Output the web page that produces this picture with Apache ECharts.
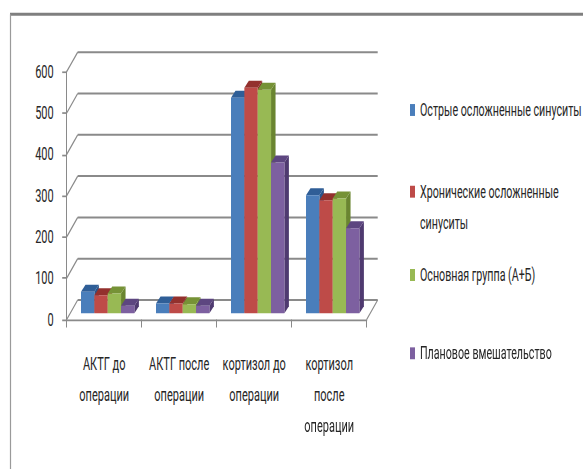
<!DOCTYPE html>
<html>
<head>
<meta charset="utf-8">
<script src="https://cdn.jsdelivr.net/npm/echarts@6/dist/echarts.min.js"></script>
<style>
  html, body { margin: 0; padding: 0; background: #ffffff; width: 583px; height: 469px; }
  #frame { position: relative; width: 583px; height: 469px; }
  /* The chart is laid out in a short box and stretched vertically,
     which gives the tall, narrow lettering and thick horizontal rules. */
  #chart { position: absolute; left: 0; top: 0; width: 583px; height: 275.88px; transform: scaleY(1.7); transform-origin: 0 0; }
</style>
</head>
<body>
<div id="frame"><div id="chart"></div></div>
<script>
// ---- data ----
const categories = ['АКТГ до\nоперации', 'АКТГ после\nоперации', 'кортизол до\nоперации', 'кортизол\nпосле\nоперации'];
const seriesNames = ['Острые осложненные синуситы', 'Хронические осложненные\nсинуситы', 'Основная группа (А+Б)', 'Плановое вмешательство'];
const acuteValues = [52, 24, 522, 286];
const chronicValues = [44, 24, 546, 274];
const mainGroupValues = [48, 22, 541, 278];
const plannedValues = [18, 18, 365, 206];
const yTicks = [0, 100, 200, 300, 400, 500, 600];

// ---- styling ----
const SY = 1.7;                       // vertical stretch of the container
const FONT = 'Roboto';
const TEXT = '#262626';
const LINE = '#8a8a8a';
const faceColors = ['#4a7ebb', '#be4b48', '#98b954', '#7d60a0'];
const topColors  = ['#2f5e97', '#93302d', '#769236', '#5d4680'];
const sideColors = ['#2b5488', '#8a2b29', '#6a8530', '#4f3a70'];

// pseudo-3D geometry (horizontal in px, vertical in unstretched px)
const BACK_DX = 11, BACK_DY = 19.5 / SY;     // back wall offset
const FRONT_DX = 3.5, FRONT_DY = 6.2 / SY;   // plane of the bars' front faces
const DEPTH_DX = 4.5, DEPTH_DY = 7 / SY;     // depth of each bar
const BAR_FRACTION = 0.178;                  // bar width as part of a category band

const valueSets = [acuteValues, chronicValues, mainGroupValues, plannedValues];

function barRenderer(i) {
  return function (params, api) {
    const cat = api.value(0), v = api.value(1);
    const base = api.coord([cat, 0]);
    const top = api.coord([cat, v]);
    const band = api.size([1, 0])[0];
    const bw = band * BAR_FRACTION;
    const x = base[0] - 2 * bw + i * bw + FRONT_DX;
    const yb = base[1] - FRONT_DY;
    const yt = top[1] - FRONT_DY;
    return {
      type: 'group',
      children: [
        { type: 'polygon', shape: { points: [[x + bw, yt], [x + bw + DEPTH_DX, yt - DEPTH_DY], [x + bw + DEPTH_DX, yb - DEPTH_DY], [x + bw, yb]] },
          style: { fill: sideColors[i] } },
        { type: 'polygon', shape: { points: [[x, yt], [x + bw, yt], [x + bw + DEPTH_DX, yt - DEPTH_DY], [x + DEPTH_DX, yt - DEPTH_DY]] },
          style: { fill: topColors[i] } },
        { type: 'rect', shape: { x: x, y: yt, width: bw, height: yb - yt },
          style: { fill: faceColors[i] } }
      ]
    };
  };
}

// back wall gridlines, the slanted connectors and the floor's right edge
function wallRenderer(params, api) {
  const cs = params.coordSys;
  const v = api.value(1);
  const y = api.coord([0, v])[1];
  const lineStyle = { stroke: LINE, lineWidth: 1.2, fill: null };
  const slant = { stroke: LINE, lineWidth: 1, fill: null };
  const children = [
    { type: 'line', shape: { x1: cs.x, y1: y, x2: cs.x + BACK_DX, y2: y - BACK_DY }, style: slant },
    { type: 'line', shape: { x1: cs.x + BACK_DX, y1: y - BACK_DY, x2: cs.x + cs.width + BACK_DX, y2: y - BACK_DY }, style: lineStyle }
  ];
  if (v === 0) {
    children.push({ type: 'line', shape: { x1: cs.x + cs.width, y1: y, x2: cs.x + cs.width + BACK_DX, y2: y - BACK_DY }, style: slant });
  }
  return { type: 'group', children: children };
}

const legendCenters = [110, 191.7, 275, 353.3];   // first-line centres
const LEGEND_LH = 31 / SY;
const SQ_W = 5, SQ_H = 7;
// for a two-line entry the swatch sits beside the first line
const twoLineIcon = 'path://M0,0L0,0M' + SQ_W + ',' + (2 * LEGEND_LH) + 'L' + SQ_W + ',' + (2 * LEGEND_LH) +
  'M0,' + (LEGEND_LH / 2 - SQ_H / 2) + 'L' + SQ_W + ',' + (LEGEND_LH / 2 - SQ_H / 2) +
  'L' + SQ_W + ',' + (LEGEND_LH / 2 + SQ_H / 2) + 'L0,' + (LEGEND_LH / 2 + SQ_H / 2) + 'Z';
const legends = seriesNames.map(function (name, i) {
  const twoLines = name.indexOf('\n') >= 0;
  return {
    data: [name],
    orient: 'vertical',
    left: 410,
    top: legendCenters[i] / SY - LEGEND_LH / 2,
    padding: 0,
    itemWidth: SQ_W,
    itemHeight: twoLines ? 2 * LEGEND_LH : SQ_H,
    icon: twoLines ? twoLineIcon : 'rect',
    selectedMode: false,
    textStyle: { fontFamily: FONT, fontSize: 10.7, color: TEXT, lineHeight: LEGEND_LH }
  };
});

const chart = echarts.init(document.getElementById('chart'), null, { renderer: 'svg', width: 583, height: 469 / SY });
chart.setOption({
  animation: false,
  backgroundColor: '#ffffff',
  textStyle: { fontFamily: FONT },
  graphic: [
    { type: 'line', shape: { x1: 10, y1: 14.2 / SY, x2: 583, y2: 14.2 / SY }, style: { stroke: '#7f7f7f', lineWidth: 3 / SY } },
    { type: 'line', shape: { x1: 10.5, y1: 14.2 / SY, x2: 10.5, y2: 469 / SY }, style: { stroke: '#9a9a9a', lineWidth: 1.2 } }
  ],
  legend: legends,
  grid: { left: 66.7, top: 71.7 / SY, width: 300, height: 247.8 / SY, containLabel: false },
  xAxis: {
    type: 'category',
    data: categories,
    axisLine: { show: true, lineStyle: { color: LINE, width: 1 } },
    axisTick: { show: true, length: 8 / SY, lineStyle: { color: LINE } },
    axisLabel: { color: TEXT, fontFamily: FONT, fontSize: 11, lineHeight: 31 / SY, margin: 17, interval: 0 },
    splitLine: { show: false }
  },
  yAxis: {
    type: 'value',
    min: 0, max: 600, interval: 100,
    axisLine: { show: true, lineStyle: { color: LINE, width: 1 } },
    axisTick: { show: true, length: 4.5, lineStyle: { color: LINE } },
    axisLabel: { color: TEXT, fontFamily: FONT, fontSize: 11, margin: 13 },
    splitLine: { show: false }
  },
  series: [
    {
      type: 'custom', name: 'wall', z: 0, silent: true,
      renderItem: wallRenderer,
      encode: { x: 0, y: 1 },
      data: yTicks.map(function (v) { return [0, v]; })
    }
  ].concat(valueSets.map(function (vals, i) {
    return {
      type: 'custom',
      name: seriesNames[i],
      z: 2,
      itemStyle: { color: faceColors[i] },
      renderItem: barRenderer(i),
      encode: { x: 0, y: 1 },
      data: vals.map(function (v, c) { return [c, v]; })
    };
  }))
});
</script>
</body>
</html>
